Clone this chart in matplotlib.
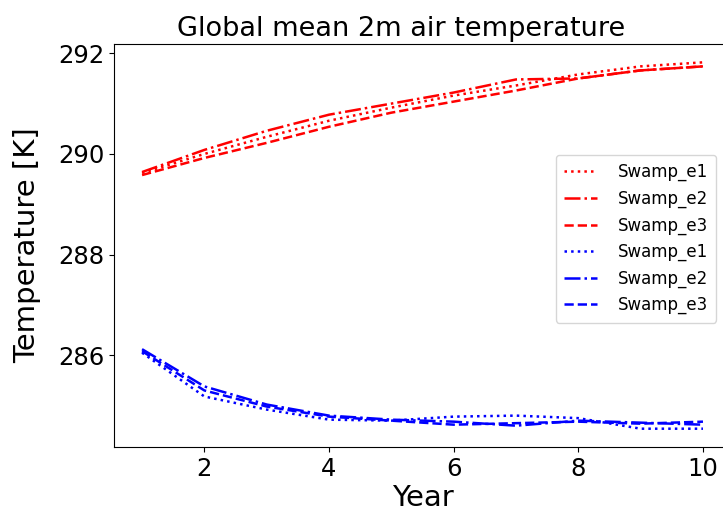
import numpy as np
import matplotlib
matplotlib.use("Agg")
import matplotlib.pyplot as plt

# yearly global mean 2m air temperature [K]
years = [1, 2, 3, 4, 5, 6, 7, 8, 9, 10]

red_e1 = [289.62, 290.00, 290.34, 290.66, 290.92, 291.16, 291.36, 291.58, 291.74, 291.82]
red_e2 = [289.64, 290.08, 290.46, 290.78, 291.00, 291.22, 291.48, 291.50, 291.66, 291.74]
red_e3 = [289.58, 289.92, 290.22, 290.54, 290.82, 291.04, 291.26, 291.50, 291.66, 291.74]

blue_e1 = [286.05, 285.18, 284.92, 284.72, 284.70, 284.78, 284.80, 284.75, 284.54, 284.54]
blue_e2 = [286.12, 285.38, 285.02, 284.80, 284.72, 284.68, 284.60, 284.70, 284.66, 284.62]
blue_e3 = [286.08, 285.30, 284.98, 284.78, 284.70, 284.62, 284.65, 284.68, 284.64, 284.68]

labels = ["Swamp_e1", "Swamp_e2", "Swamp_e3"]
styles = [":", "-.", "--"]

fig = plt.figure(figsize=(7.23, 5.21), dpi=100)
ax = fig.add_axes([0.1577, 0.142, 0.8534, 0.7735])

for series, ls, lab in zip([red_e1, red_e2, red_e3], styles, labels):
    ax.plot(years, series, color="r", linestyle=ls, lw=1.8, label=lab)
for series, ls, lab in zip([blue_e1, blue_e2, blue_e3], styles, labels):
    ax.plot(years, series, color="b", linestyle=ls, lw=1.8, label=lab)

ax.set_xticks([2, 4, 6, 8, 10])
ax.set_yticks([286, 288, 290, 292])
ax.tick_params(labelsize=17.5)
ax.set_xlabel("Year", fontsize=21, labelpad=2)
ax.set_ylabel("Temperature [K]", fontsize=21, labelpad=12)
ax.set_title("Global mean 2m air temperature", fontsize=19.5, x=0.465)

ax.legend(loc="upper left", bbox_to_anchor=(0.716, 0.725), borderaxespad=0,
          fontsize=12, handlelength=2.0, handletextpad=1.2, borderpad=0.5)

fig.savefig("out.png", dpi=100)
